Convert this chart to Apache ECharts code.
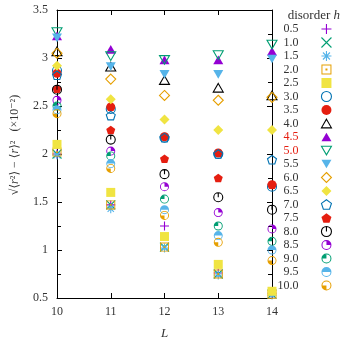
<!DOCTYPE html>
<html>
<head>
<meta charset="utf-8">
<script src="https://cdn.jsdelivr.net/npm/echarts@6/dist/echarts.min.js"></script>
<style>
  html, body { margin: 0; padding: 0; background: #fff; }
  #chart { width: 341px; height: 345px; }
</style>
</head>
<body>
<div id="chart"></div>
<script>
// system size L and the width of the distribution for each disorder h (x10^-2)
const sizes = [10, 11, 12, 13, 14];
const disorder = ['0.5', '1.0', '1.5', '2.0', '2.5', '3.0', '3.5', '4.0', '4.5', '5.0',
                  '5.5', '6.0', '6.5', '7.0', '7.5', '8.0', '8.5', '9.0', '9.5', '10.0'];
const h0_5 = [2.00, 1.47, 1.25, 0.76, 0.55];
const h1_0 = [2.00, 1.47, 1.03, 0.75, 0.54];
const h1_5 = [1.99, 1.43, 1.02, 0.74, 0.53];
const h2_0 = [2.02, 1.47, 1.03, 0.75, 0.54];
const h2_5 = [2.10, 1.60, 1.14, 0.85, 0.57];
const h3_0 = [2.87, 2.47, 2.17, 2.00, 1.66];
const h3_5 = [2.84, 2.49, 2.18, 2.01, 1.68];
const h4_0 = [3.07, 2.91, 2.77, 2.69, 2.61];
const h4_5 = [3.23, 3.09, 2.98, 2.98, 3.07];
const h5_0 = [3.27, 3.02, 2.98, 3.03, 3.14];
const h5_5 = [3.21, 2.91, 2.83, 2.83, 2.99];
const h6_0 = [3.05, 2.78, 2.61, 2.56, 2.59];
const h6_5 = [2.92, 2.57, 2.36, 2.25, 2.25];
const h7_0 = [2.82, 2.40, 2.17, 2.00, 1.94];
const h7_5 = [2.68, 2.25, 1.95, 1.75, 1.68];
const h8_0 = [2.67, 2.15, 1.79, 1.55, 1.42];
const h8_5 = [2.56, 2.03, 1.66, 1.39, 1.22];
const h9_0 = [2.50, 1.98, 1.53, 1.25, 1.09];
const h9_5 = [2.46, 1.90, 1.42, 1.15, 1.00];
const h10_0 = [2.42, 1.85, 1.36, 1.08, 0.89];
const widths = [h0_5, h1_0, h1_5, h2_0, h2_5, h3_0, h3_5, h4_0, h4_5, h5_0,
                h5_5, h6_0, h6_5, h7_0, h7_5, h8_0, h8_5, h9_0, h9_5, h10_0];
const redLabels = ['4.5', '5.0'];

const font = '"Liberation Serif", "DejaVu Serif", serif';
const txt = '#333';
const palette = ['#9400d3', '#009e73', '#56b4e9', '#e69f00', '#f0e442', '#0072b2', '#e51e10', '#000000'];

// gnuplot style point types
const ring = 'M10,0A10,10 0 0,1 10,20A10,10 0 0,1 10,0ZM10,2A8,8 0 0,0 10,18A8,8 0 0,0 10,2Z';
const P = {
  plus: ['path://M10,0L10,20M0,10L20,10', true],
  cross: ['path://M1,1L19,19M19,1L1,19', true],
  star: ['path://M10,0L10,20M0,10L20,10M3,3L17,17M17,3L3,17', true],
  sqDot: ['path://M0,0L20,0L20,20L0,20ZM2,18L18,18L18,2L2,2ZM8,8L12,8L12,12L8,12Z', false],
  sq: ['path://M0,0L20,0L20,20L0,20Z', false],
  circ: ['circle', true],
  circF: ['circle', false],
  tri: ['path://M10,0L20,17.3L0,17.3Z', true],
  triF: ['path://M10,0L20,17.3L0,17.3Z', false],
  inv: ['path://M0,0L20,0L10,17.3Z', true],
  invF: ['path://M0,0L20,0L10,17.3Z', false],
  dia: ['path://M10,0L20,10L10,20L0,10Z', true],
  diaF: ['path://M10,0L20,10L10,20L0,10Z', false],
  pent: ['path://M10,0L19.51,6.91L15.88,18.09L4.12,18.09L0.49,6.91Z', true],
  pentF: ['path://M10,0L19.51,6.91L15.88,18.09L4.12,18.09L0.49,6.91Z', false],
  c0: ['path://M10,0A10,10 0 0,1 10,20A10,10 0 0,1 10,0ZM10,10L10,0', true],
  c1: ['path://' + ring + 'M10,10L10,1A9,9 0 0,1 19,10Z', false],
  c2: ['path://' + ring + 'M10,10L1,10A9,9 0 0,1 10,1Z', false],
  c3: ['path://' + ring + 'M10,10L1,10A9,9 0 0,1 19,10Z', false],
  c4: ['path://' + ring + 'M10,10L10,19A9,9 0 0,1 1,10Z', false]
};
const order = ['plus', 'cross', 'star', 'sqDot', 'sq', 'circ', 'circF', 'tri', 'triF', 'inv',
               'invF', 'dia', 'diaF', 'pent', 'pentF', 'c0', 'c1', 'c2', 'c3', 'c4'];
const symSize = { tri: 10, triF: 10, inv: 10, invF: 10, dia: 10, diaF: 10 };

const chart = echarts.init(document.getElementById('chart'));

const series = disorder.map((h, i) => {
  const key = order[i];
  const [symbol, hollow] = P[key];
  const color = palette[i % 8];
  return {
    name: h,
    type: 'scatter',
    data: sizes.map((x, j) => [x, widths[i][j]]),
    symbol: symbol,
    symbolSize: symSize[key] || 9,
    symbolKeepAspect: true,
    itemStyle: hollow
      ? { color: 'transparent', borderColor: color, borderWidth: 1.1, opacity: 1 }
      : { color: color, borderWidth: 0, opacity: 1 },
    emphasis: { disabled: true }
  };
});

const axisLine = { show: true, lineStyle: { color: '#000', width: 1 } };
const labelStyle = { fontFamily: font, fontSize: 12, color: txt };

chart.setOption({
  animation: false,
  grid: { left: 57, right: 69, top: 10, bottom: 39 },
  title: {
    text: 'disorder {i|h}',
    right: 1,
    top: 9,
    padding: 0,
    textStyle: {
      fontFamily: font, fontSize: 13, fontWeight: 'normal', color: txt,
      rich: { i: { fontFamily: font, fontSize: 13, fontStyle: 'italic', color: txt } }
    }
  },
  legend: {
    orient: 'vertical',
    right: 9,
    top: 23,
    padding: 0,
    align: 'right',
    itemWidth: 10,
    itemHeight: 10,
    itemGap: 1.5,
    selectedMode: false,
    formatter: name => '{t|' + name + '}',
    textStyle: {
      fontFamily: font, fontSize: 12, color: txt,
      rich: { t: { fontFamily: font, fontSize: 12, padding: [0, 18, 0, 0] } }
    },
    data: disorder.map((h, i) => ({
      name: h,
      itemStyle: { borderWidth: P[order[i]][1] ? 1.1 : 0 },
      textStyle: redLabels.includes(h) ? { color: '#e51e10' } : { color: txt }
    }))
  },
  xAxis: [
    {
      type: 'value', min: 10, max: 14, interval: 1, position: 'bottom',
      axisLine: axisLine,
      axisTick: { inside: true, length: 5, lineStyle: { color: '#000' } },
      axisLabel: Object.assign({ margin: 8 }, labelStyle),
      splitLine: { show: false },
      name: 'L', nameLocation: 'middle', nameGap: 29,
      nameTextStyle: { fontFamily: font, fontSize: 13, fontStyle: 'italic', color: txt }
    },
    {
      type: 'value', min: 10, max: 14, interval: 1, position: 'top',
      axisLine: axisLine,
      axisTick: { inside: true, length: 5, lineStyle: { color: '#000' } },
      axisLabel: { show: false },
      splitLine: { show: false }
    }
  ],
  yAxis: [
    {
      type: 'value', min: 0.5, max: 3.5, interval: 0.5, position: 'left',
      axisLine: axisLine,
      axisTick: { inside: true, length: 5, lineStyle: { color: '#000' } },
      minorTick: { show: true, splitNumber: 2, length: 4, lineStyle: { color: '#000' } },
      axisLabel: Object.assign({ margin: 9 }, labelStyle),
      splitLine: { show: false },
      name: '{n|√⟨}{i|r}{n|²⟩ − ⟨}{i|r}{n|⟩²   (×10⁻²)}',
      nameLocation: 'middle', nameGap: 36, nameRotate: 90,
      nameTextStyle: {
        fontFamily: font, fontSize: 12, color: txt, padding: [0, 0, 0, 18],
        rich: {
          n: { fontFamily: font, fontSize: 12, color: txt },
          i: { fontFamily: font, fontSize: 12, fontStyle: 'italic', color: txt }
        }
      }
    },
    {
      type: 'value', min: 0.5, max: 3.5, interval: 0.5, position: 'right',
      axisLine: axisLine,
      axisTick: { inside: true, length: 5, lineStyle: { color: '#000' } },
      minorTick: { show: true, splitNumber: 2, length: 4, lineStyle: { color: '#000' } },
      axisLabel: { show: false },
      splitLine: { show: false }
    }
  ],
  series: series
});
</script>
</body>
</html>
